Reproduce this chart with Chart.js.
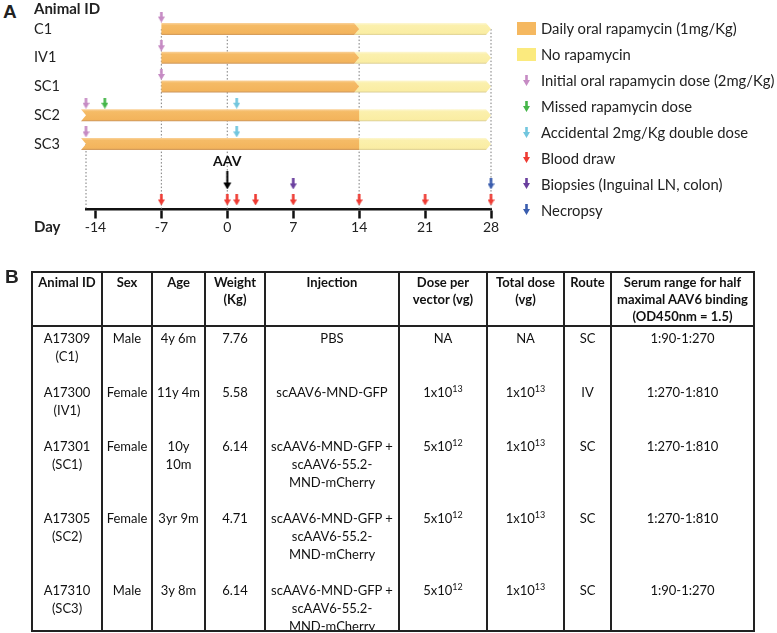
<!DOCTYPE html>
<html>
<head>
<meta charset="utf-8">
<script src="https://cdn.jsdelivr.net/npm/chart.js@4.4.1/dist/chart.umd.min.js"></script>
<style>
  body { margin: 0; background: #fff; }
  #page { position: relative; width: 777px; height: 633px; overflow: hidden; font-family: Lato, sans-serif; color: #111; }
  .panel { position: absolute; font: bold 19px "Liberation Sans", Arial, sans-serif; color: #222; line-height: 19px; }
  .side { position: absolute; font: bold 15px Lato, sans-serif; color: #222; line-height: 18px; }
  #timeline { position: absolute; left: 0; top: 0; }
  #legend { position: absolute; left: 516px; top: 15.5px; font: 14.8px Lato, sans-serif; color: #222; }
  #legend .key { display: flex; align-items: center; height: 25.9px; white-space: nowrap; }
  #legend .icon { width: 20px; display: flex; justify-content: center; align-items: center; }
  #legend .icon canvas { display: block; }
  #legend .text { margin-left: 5px; }
  #tbl { position: absolute; left: 31px; top: 271px; width: 724px; height: 361px; border: 2px solid #222; box-sizing: border-box; overflow: hidden; }
  #tbl table { border-collapse: collapse; table-layout: fixed; width: 720px; font: 13px Lato, sans-serif; color: #111; }
  #tbl td, #tbl th { border-left: 2px solid #222; text-align: center; vertical-align: top; padding: 2px 1px 16px; line-height: 18px; white-space: nowrap; }
  #tbl tr > :first-child { border-left: none; }
  #tbl th { font-weight: bold; padding: 1px 0 0; line-height: 17px; height: 51px; border-bottom: 2px solid #222; }
  #tbl sup { font-size: 9px; vertical-align: 5px; line-height: 0; }
</style>
</head>
<body>
<div id="page">
  <div class="panel" style="left:3px; top:2px;">A</div>
  <canvas id="timeline" width="777" height="240"></canvas>
  <div class="side" style="left:34px; top:-1px;">Animal ID</div>
  <div class="side" style="left:34px; top:217px;">Day</div>
  <div id="legend"></div>

  <div class="panel" style="left:5px; top:267px;">B</div>
  <div id="tbl">
    <table>
      <colgroup>
        <col style="width:69px"><col style="width:50px"><col style="width:53px"><col style="width:60px">
        <col style="width:134px"><col style="width:88px"><col style="width:77px"><col style="width:47px"><col style="width:142px">
      </colgroup>
      <tr>
        <th>Animal ID</th><th>Sex</th><th>Age</th><th>Weight<br>(Kg)</th><th>Injection</th>
        <th>Dose per<br>vector (vg)</th><th>Total dose<br>(vg)</th><th>Route</th>
        <th>Serum range for half<br>maximal AAV6 binding<br>(OD450nm = 1.5)</th>
      </tr>
      <tr>
        <td>A17309<br>(C1)</td><td>Male</td><td>4y 6m</td><td>7.76</td><td>PBS</td>
        <td>NA</td><td>NA</td><td>SC</td><td>1:90-1:270</td>
      </tr>
      <tr>
        <td>A17300<br>(IV1)</td><td>Female</td><td>11y 4m</td><td>5.58</td><td>scAAV6-MND-GFP</td>
        <td>1x10<sup>13</sup></td><td>1x10<sup>13</sup></td><td>IV</td><td>1:270-1:810</td>
      </tr>
      <tr>
        <td>A17301<br>(SC1)</td><td>Female</td><td>10y<br>10m</td><td>6.14</td><td>scAAV6-MND-GFP +<br>scAAV6-55.2-<br>MND-mCherry</td>
        <td>5x10<sup>12</sup></td><td>1x10<sup>13</sup></td><td>SC</td><td>1:270-1:810</td>
      </tr>
      <tr>
        <td>A17305<br>(SC2)</td><td>Female</td><td>3yr 9m</td><td>4.71</td><td>scAAV6-MND-GFP +<br>scAAV6-55.2-<br>MND-mCherry</td>
        <td>5x10<sup>12</sup></td><td>1x10<sup>13</sup></td><td>SC</td><td>1:270-1:810</td>
      </tr>
      <tr>
        <td>A17310<br>(SC3)</td><td>Male</td><td>3y 8m</td><td>6.14</td><td>scAAV6-MND-GFP +<br>scAAV6-55.2-<br>MND-mCherry</td>
        <td>5x10<sup>12</sup></td><td>1x10<sup>13</sup></td><td>SC</td><td>1:90-1:270</td>
      </tr>
    </table>
  </div>
</div>

<script>
"use strict";

// timeline data (days relative to AAV injection)
const rowLabels = [`C1`, `IV1`, `SC1`, `SC2`, `SC3`];
const rapamycinStart = [-7, -7, -7, -15, -15];
const rapamycinStop = [14, 14, 14, 14, 14];
const studyEnd = [28, 28, 28, 28, 28];
const initialDoseDays = [-7, -7, -7, -15, -15];
const missedDoseRows = [`SC2`];
const missedDoseDays = [-13];
const doubleDoseRows = [`SC2`, `SC3`];
const doubleDoseDays = [1, 1];
const bloodDrawDays = [-7, 0, 1, 3, 7, 14, 21, 28];
const biopsyDays = [7];
const necropsyDays = [28];
const aavDays = [0];
const dayTicks = [-14, -7, 0, 7, 14, 21, 28];
const guideDays = [-15, -7, 0, 14, 28];
const guideFromRow = [`SC3`, `C1`, `C1`, `C1`, `C1`];

// where things sit on the (reversed) y scale, in row units
const aboveBar = 0.42;
const laneAav = 5.27;
const laneUpper = 5.39;
const laneBlood = 5.95;
const axisLevel = 6.26;

const colors = {
  orange: `#f5b860`,
  yellow: `#fbea7e`,
  pink: `#c68bc4`,
  green: `#45b649`,
  cyan: `#72c6de`,
  red: `#ee3b33`,
  purple: `#6a3f9e`,
  blue: `#3a5dae`
};

function arrowIcon(color, w, h) {
  const c = document.createElement(`canvas`);
  c.width = w;
  c.height = h;
  const g = c.getContext(`2d`);
  const shaft = 2.6;
  const head = Math.round(h * 0.55);
  g.fillStyle = color;
  g.beginPath();
  g.moveTo((w - shaft) / 2, 0);
  g.lineTo((w + shaft) / 2, 0);
  g.lineTo((w + shaft) / 2, h - head);
  g.lineTo(w, h - head);
  g.lineTo(w / 2, h);
  g.lineTo(0, h - head);
  g.lineTo((w - shaft) / 2, h - head);
  g.closePath();
  g.fill();
  return c;
}

function aavIcon() {
  const c = document.createElement(`canvas`);
  c.width = 9;
  c.height = 18;
  const g = c.getContext(`2d`);
  g.fillStyle = `#000`;
  g.fillRect(3.5, 0, 2, 12);
  g.beginPath();
  g.moveTo(0.5, 11);
  g.lineTo(8.5, 11);
  g.lineTo(4.5, 18);
  g.closePath();
  g.fill();
  return c;
}

function swatch(color) {
  const c = document.createElement(`canvas`);
  c.width = 19;
  c.height = 13;
  const g = c.getContext(`2d`);
  g.fillStyle = color;
  g.fillRect(0, 0, 19, 13);
  return c;
}

const rowOf = name => rowLabels.indexOf(name);

function markers(label, color, days, rows, y, extra) {
  return Object.assign({
    type: `scatter`,
    label: label,
    data: days.map((d, i) => ({ x: d, y: rows ? rowOf(rows[i]) - aboveBar : y })),
    pointStyle: arrowIcon(color, 7, 11),
    backgroundColor: color,
    borderColor: color,
    clip: false,
    order: 0
  }, extra || {});
}

// bars are drawn as arrows (orange one points into the yellow one)
const arrowBars = {
  id: `arrowBars`,
  beforeDatasetDraw(chart, args) {
    const ds = chart.data.datasets[args.index];
    if (!ds.shade) {
      return;
    }
    const ctx = chart.ctx;
    const tip = 5;
    args.meta.data.forEach(bar => {
      const { x, y, base, height } = bar.getProps([`x`, `y`, `base`, `height`], true);
      const top = y - height / 2;
      const bot = y + height / 2;
      const left = ds.notch ? base - tip : base;
      const grad = ctx.createLinearGradient(0, top, 0, bot);
      grad.addColorStop(0, ds.shade[0]);
      grad.addColorStop(0.2, ds.shade[1]);
      grad.addColorStop(0.85, ds.shade[2]);
      grad.addColorStop(1, ds.shade[3]);
      ctx.save();
      ctx.beginPath();
      ctx.moveTo(left, top);
      ctx.lineTo(x - tip, top);
      ctx.lineTo(x, y);
      ctx.lineTo(x - tip, bot);
      ctx.lineTo(left, bot);
      if (ds.notch) {
        ctx.lineTo(base, y);
      }
      ctx.closePath();
      ctx.fillStyle = grad;
      ctx.fill();
      ctx.restore();
    });
    return false;
  }
};

const aavLabel = {
  id: `aavLabel`,
  afterDatasetsDraw(chart) {
    const idx = chart.data.datasets.findIndex(d => d.aav);
    const pt = chart.getDatasetMeta(idx).data[0];
    const ctx = chart.ctx;
    ctx.save();
    ctx.font = `bold 14px Lato`;
    ctx.fillStyle = `#111`;
    ctx.textAlign = `center`;
    ctx.textBaseline = `middle`;
    ctx.fillText(`AAV`, pt.x, pt.y - 19);
    ctx.restore();
  }
};

// legend is built as html next to the plot
const htmlLegend = {
  id: `htmlLegend`,
  afterUpdate(chart) {
    const box = document.getElementById(`legend`);
    box.innerHTML = ``;
    chart.options.plugins.legend.labels.generateLabels(chart)
      .filter(item => chart.data.datasets[item.datasetIndex].inLegend !== false)
      .sort((a, b) => a.datasetIndex - b.datasetIndex)
      .forEach(item => {
        const row = document.createElement(`div`);
        row.className = `key`;
        const icon = document.createElement(`span`);
        icon.className = `icon`;
        const img = item.pointStyle;
        const c = document.createElement(`canvas`);
        c.width = img.width;
        c.height = img.height;
        c.getContext(`2d`).drawImage(img, 0, 0);
        icon.appendChild(c);
        const text = document.createElement(`span`);
        text.className = `text`;
        text.textContent = item.text;
        row.appendChild(icon);
        row.appendChild(text);
        box.appendChild(row);
      });
  }
};

const datasets = [
  {
    type: `bar`,
    label: `Daily oral rapamycin (1mg/Kg)`,
    indexAxis: `y`,
    grouped: false,
    barThickness: 12,
    data: rowLabels.map((r, i) => ({ x: [rapamycinStart[i], rapamycinStop[i]], y: i })),
    backgroundColor: colors.orange,
    pointStyle: swatch(colors.orange),
    shade: [`#fad29a`, `#f5bb66`, `#f3b45c`, `#c8935c`],
    notch: false,
    order: 2
  },
  {
    type: `bar`,
    label: `No rapamycin`,
    indexAxis: `y`,
    grouped: false,
    barThickness: 12,
    data: rowLabels.map((r, i) => ({ x: [rapamycinStop[i], studyEnd[i]], y: i })),
    backgroundColor: colors.yellow,
    pointStyle: swatch(colors.yellow),
    shade: [`#fdf7d2`, `#fbf0ad`, `#faeda3`, `#d9cc95`],
    notch: true,
    order: 2
  },
  markers(`Initial oral rapamycin dose (2mg/Kg)`, colors.pink, initialDoseDays, rowLabels),
  markers(`Missed rapamycin dose`, colors.green, missedDoseDays, missedDoseRows),
  markers(`Accidental 2mg/Kg double dose`, colors.cyan, doubleDoseDays, doubleDoseRows),
  markers(`Blood draw`, colors.red, bloodDrawDays, null, laneBlood),
  markers(`Biopsies (Inguinal LN, colon)`, colors.purple, biopsyDays, null, laneUpper),
  markers(`Necropsy`, colors.blue, necropsyDays, null, laneUpper),
  markers(`AAV`, `#000`, aavDays, null, laneAav, { pointStyle: aavIcon(), aav: true, inLegend: false })
].concat(guideDays.map((d, i) => ({
  type: `line`,
  label: ``,
  inLegend: false,
  data: [{ x: d, y: rowOf(guideFromRow[i]) }, { x: d, y: axisLevel }],
  borderColor: `#7a7a7a`,
  borderWidth: 1,
  borderDash: [1.5, 2],
  pointRadius: 0,
  clip: false,
  order: 3
})));

Chart.defaults.font.family = `Lato`;
Chart.defaults.color = `#222`;

const chart = new Chart(document.getElementById(`timeline`), {
  type: `scatter`,
  data: { datasets: datasets },
  plugins: [arrowBars, aavLabel, htmlLegend],
  options: {
    responsive: false,
    animation: false,
    devicePixelRatio: 1,
    layout: { padding: { left: 34, top: 9, right: 286, bottom: 0 } },
    scales: {
      x: {
        type: `linear`,
        min: -15,
        max: 28,
        offset: false,
        position: { y: axisLevel },
        afterBuildTicks: scale => {
          scale.ticks = dayTicks.map(v => ({ value: v }));
        },
        grid: { drawOnChartArea: false, drawTicks: true, tickLength: 8, tickWidth: 2.5, tickColor: `#111` },
        border: { display: true, color: `#111`, width: 2.5 },
        ticks: { color: `#222`, font: { size: 14 }, padding: 2, autoSkip: false, maxRotation: 0 }
      },
      y: {
        type: `linear`,
        reverse: true,
        offset: false,
        min: -0.7,
        max: 7.04,
        afterBuildTicks: scale => {
          scale.ticks = rowLabels.map((r, i) => ({ value: i }));
        },
        afterFit: scale => {
          scale.width = 52;
        },
        grid: { display: false },
        border: { display: false },
        ticks: { crossAlign: `far`, color: `#222`, font: { size: 14.5 }, padding: 0, autoSkip: false, callback: v => rowLabels[v] }
      }
    },
    plugins: {
      tooltip: { enabled: false },
      legend: {
        display: false,
        labels: { usePointStyle: true }
      }
    }
  }
});
</script>
</body>
</html>
